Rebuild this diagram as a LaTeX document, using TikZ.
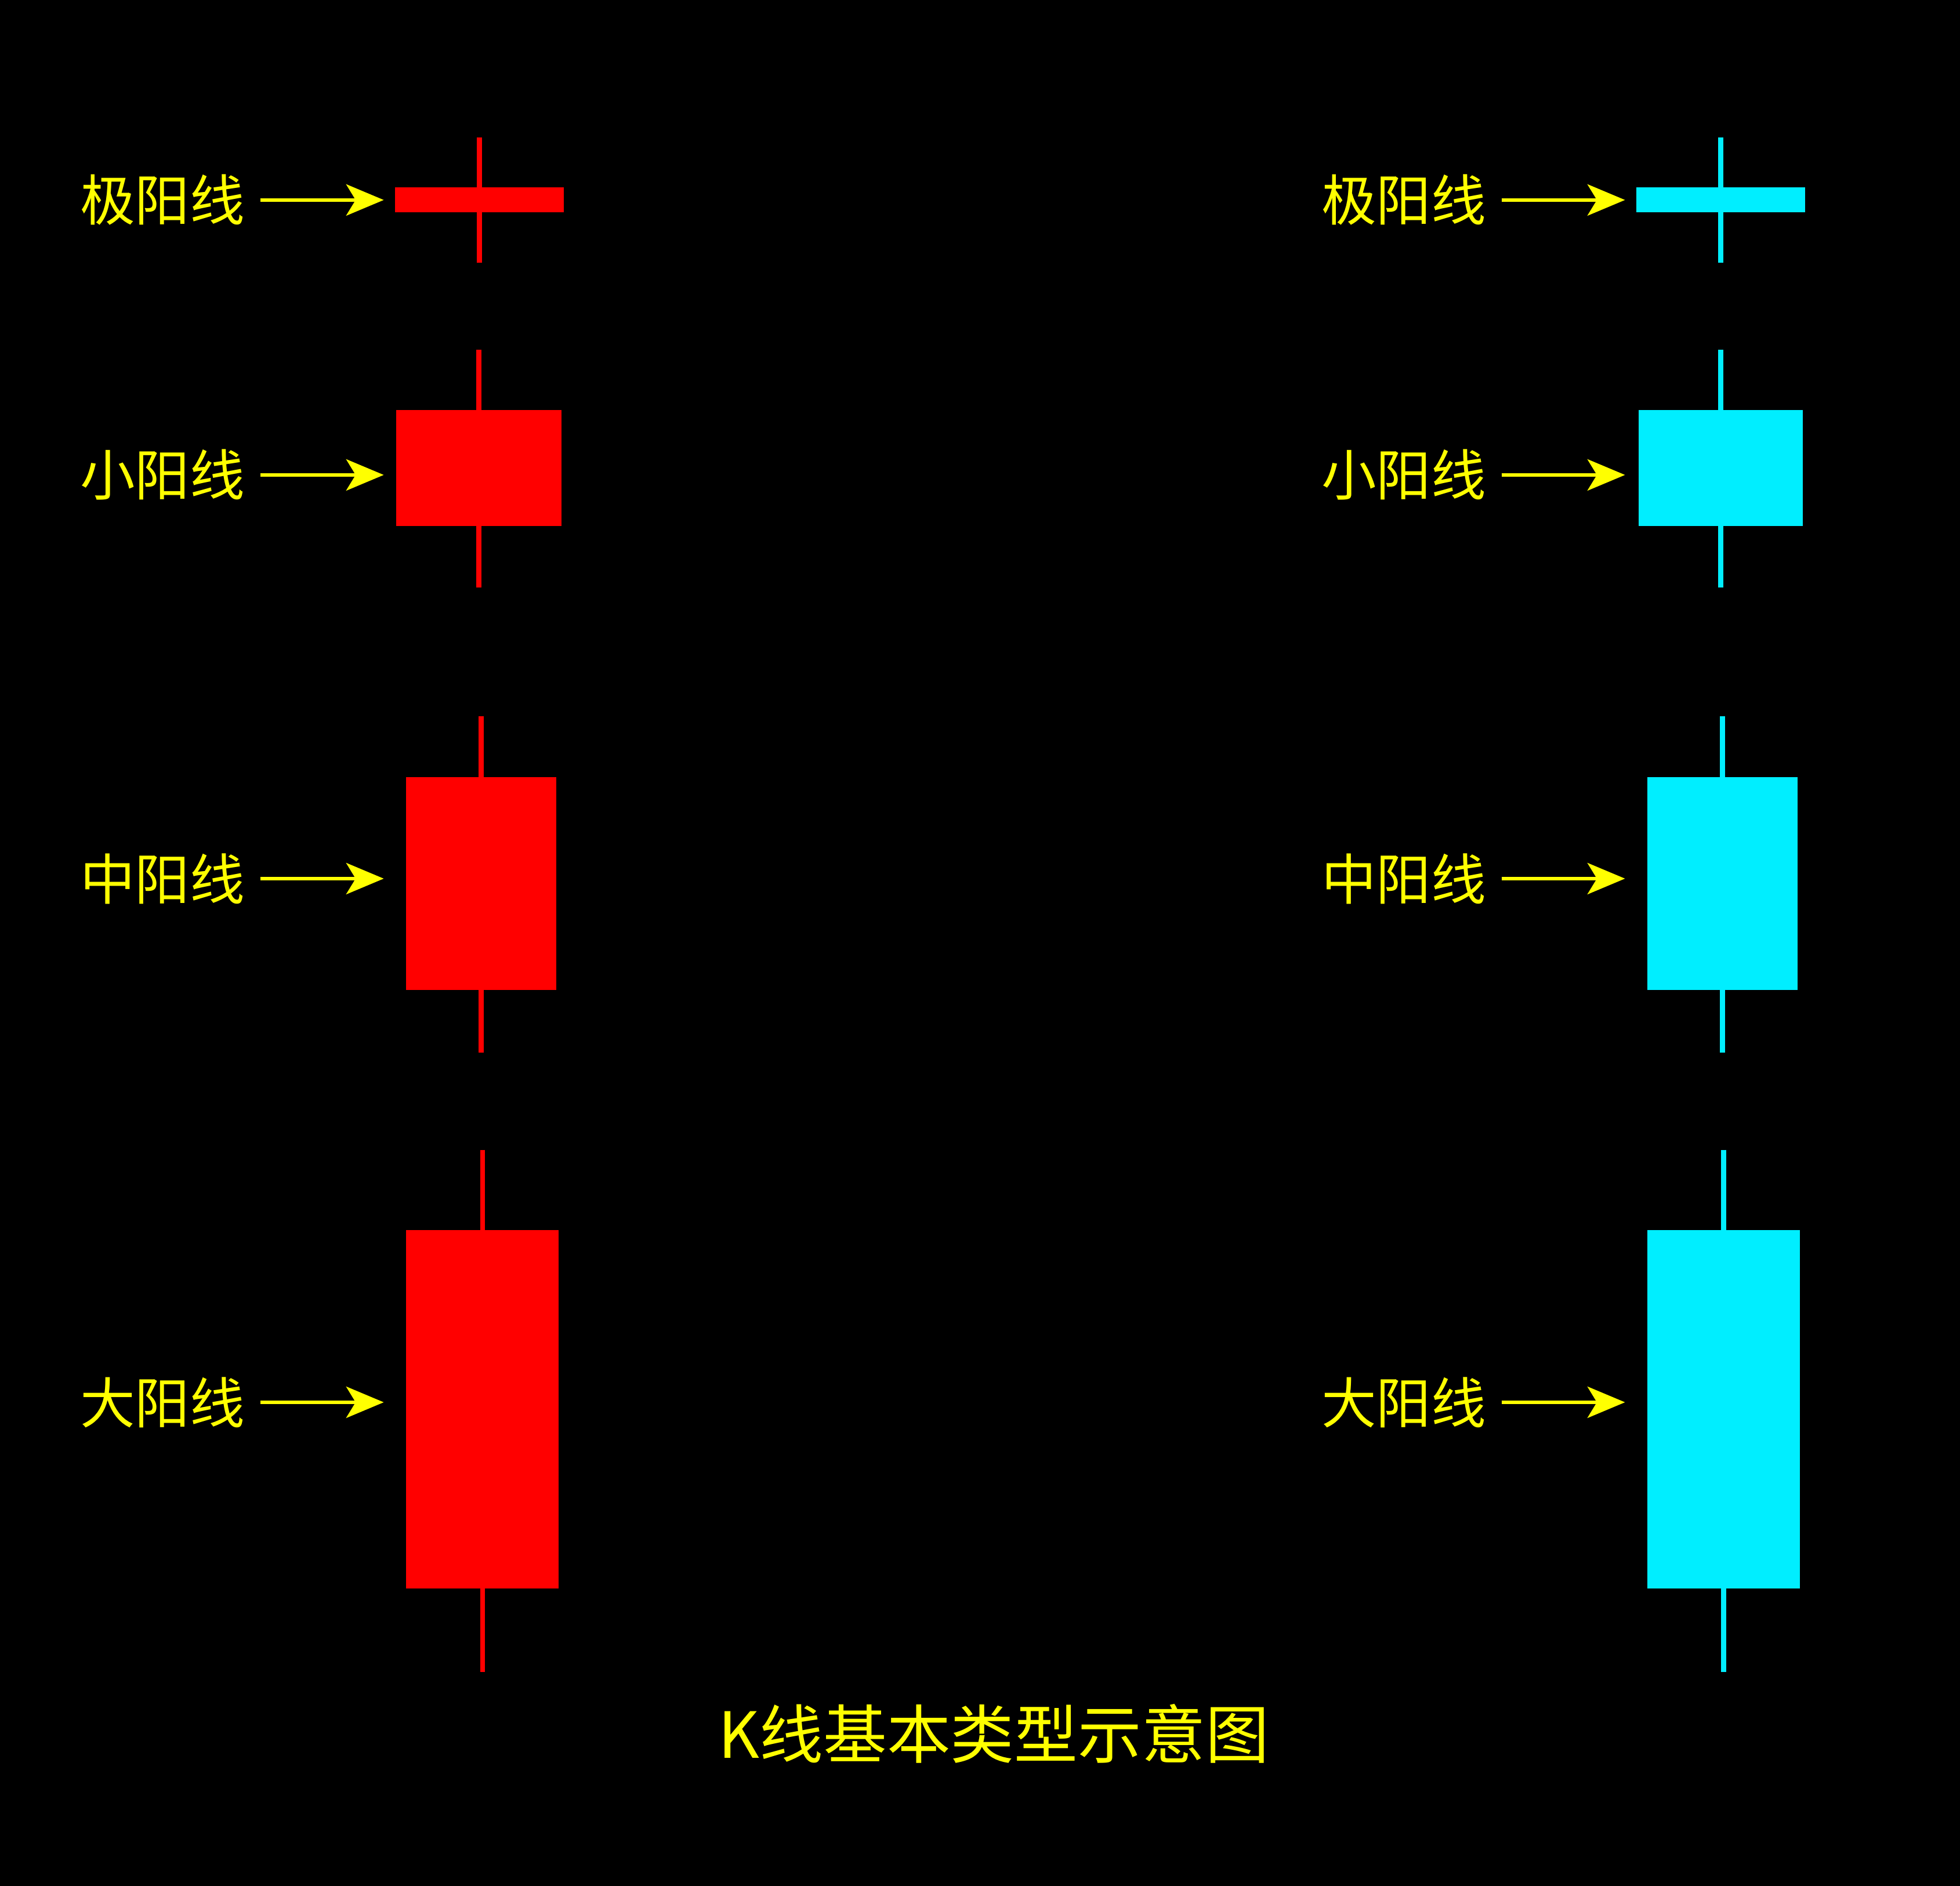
\documentclass[tikz,border=0pt]{standalone}
\usepackage{fontspec}
\newfontfamily\cjk{Noto Sans CJK SC}
\usetikzlibrary{arrows.meta}
\definecolor{kred}{HTML}{FF0000}
\definecolor{kcyan}{HTML}{00EEFF}
\definecolor{kyel}{HTML}{FFFF00}
\begin{document}
\begin{tikzpicture}[x=0.02cm,y=-0.02cm,
  lbl/.style={text=kyel,font=\cjk\fontsize{25}{25}\selectfont,inner sep=0pt},
  arr/.style={draw=kyel,line width=0.06cm,-{Stealth[length=0.6cm,width=0.5cm,inset=0.15cm]}},
  wick/.style={line width=0.08cm},
  body/.style={inner sep=0pt,draw=none}]
\fill[black] (0,0) rectangle (1568,1509);
\useasboundingbox (0,0) rectangle (1568,1509);
% rows: label y, wick top, wick bottom, body top, body bottom, left x1, x2, right x1, x2, name
\foreach \n/\t/\ly/\wt/\wb/\bt/\bb/\lx/\lxx/\rx/\rxx in {
  a/极阳线/160/110/210/150/170/316/451/1309/1444,
  b/小阳线/380/280/470/328/421/317/449/1311/1442,
  c/中阳线/703/573/842/622/792/325/445/1318/1438,
  d/大阳线/1122/920/1338/984/1271/325/447/1318/1440}{
  \foreach \side/\off/\xa/\xb/\col in {L/0/\lx/\lxx/kred, R/993/\rx/\rxx/kcyan}{
    \coordinate (\n\side top) at ({(\xa+\xb)/2},\wt);
    \coordinate (\n\side bot) at ({(\xa+\xb)/2},\wb);
    \draw[wick,\col] (\n\side top) -- (\n\side bot);
    \node[body,fill=\col,minimum width={(\xb-\xa)*0.02cm},minimum height={(\bb-\bt)*0.02cm}]
      (\n\side body) at ({(\xa+\xb)/2},{(\bt+\bb)/2}) {};
    \node[lbl] (\n\side lbl) at ({130+\off},\ly) {\t};
    \coordinate (\n\side tip) at ({307+\off},\ly);
    \draw[arr] ([xshift=0.24cm]\n\side lbl.east) -- (\n\side tip);
  }
}
\node[lbl,font=\cjk\fontsize{29}{29}\selectfont] (title) at (795,1387) {K线基本类型示意图};
\end{tikzpicture}
\end{document}
